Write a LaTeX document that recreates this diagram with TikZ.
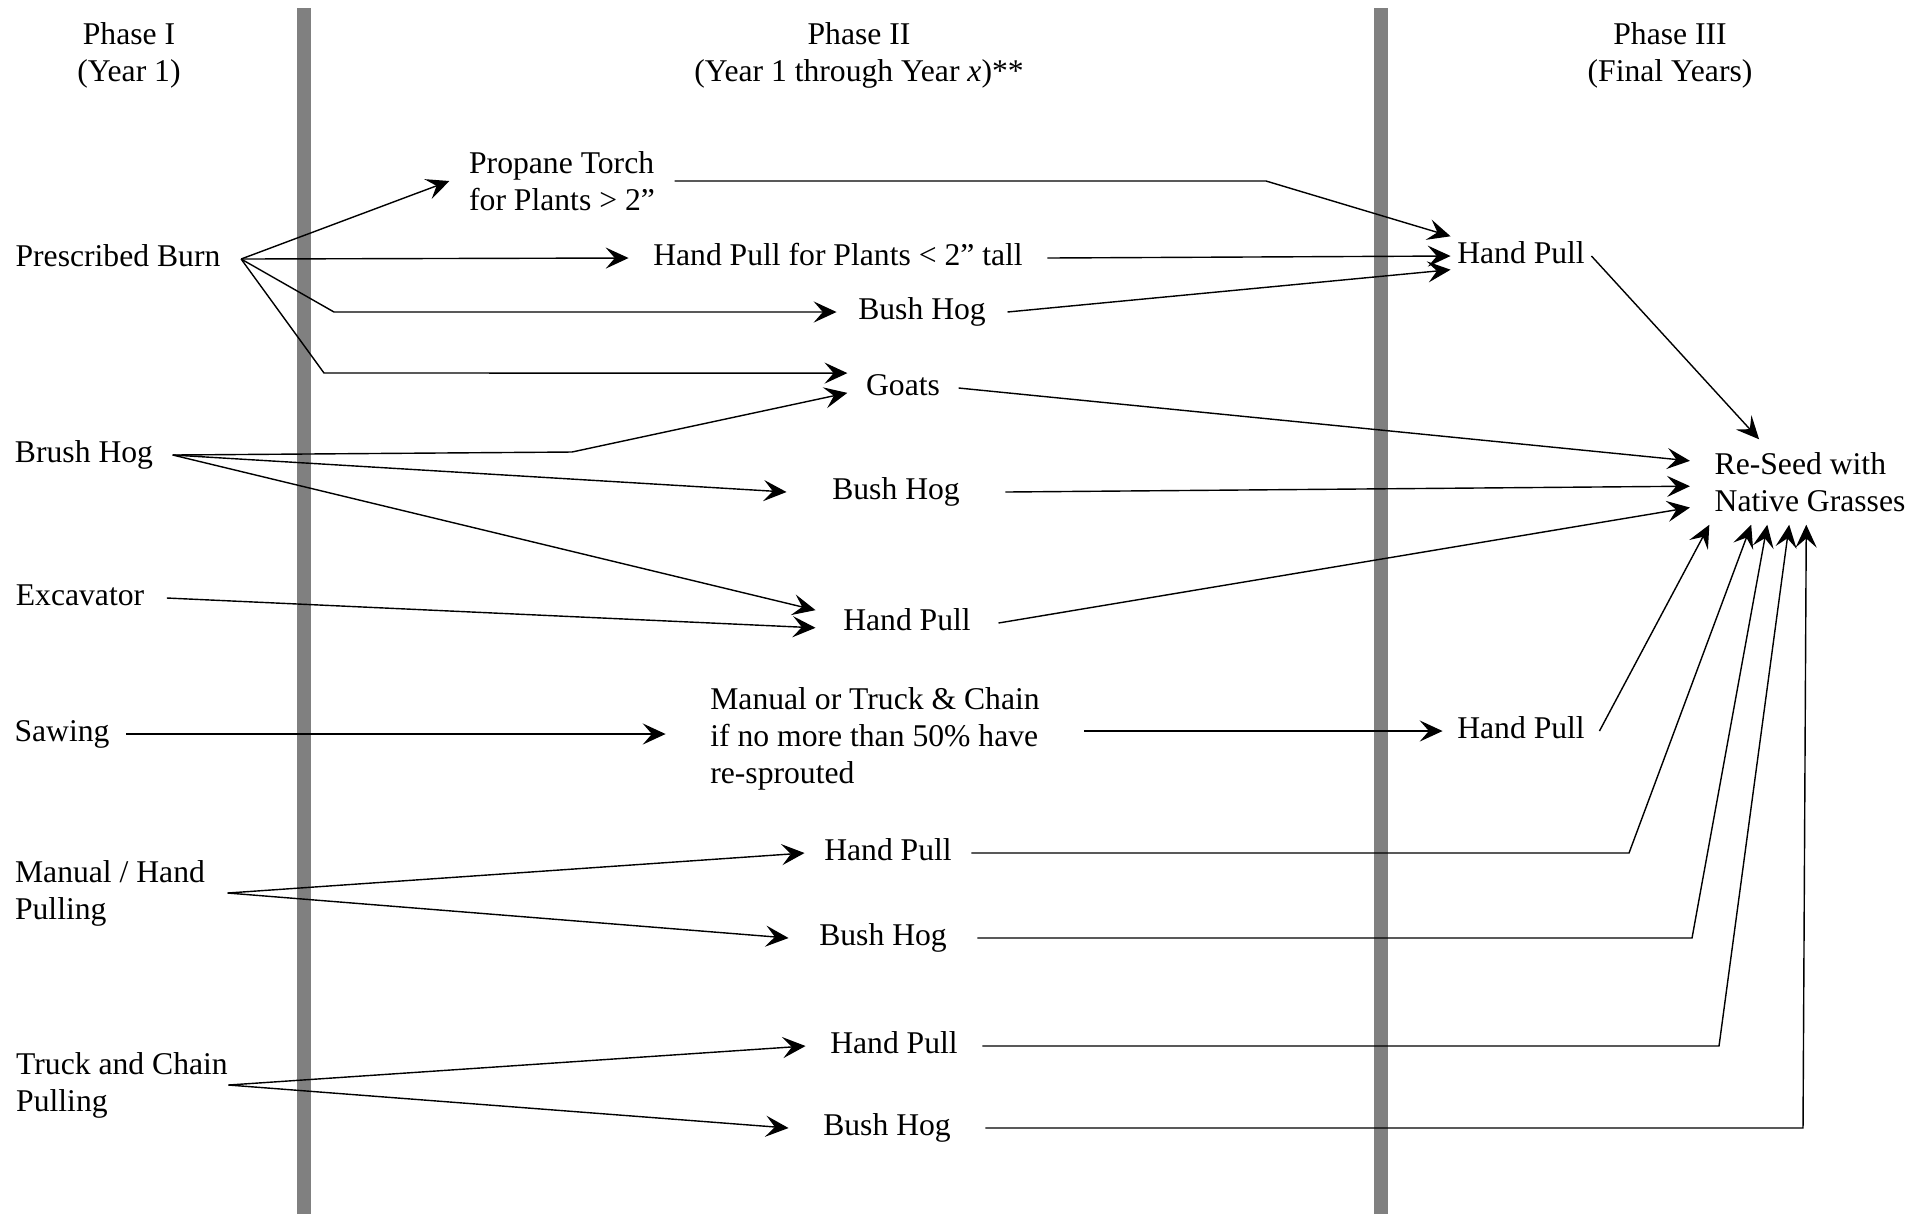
\documentclass[tikz,border=0pt]{standalone}
\usepackage{fontspec}
\setmainfont{Liberation Serif}
\usepackage{xcolor}
\usepackage{tikz}
\usetikzlibrary{arrows.meta}

\definecolor{bargray}{HTML}{808080}
\tikzset{
	lbl/.style={font=\fontsize{9}{10.5}\selectfont, inner xsep=0.2cm, inner ysep=2pt, text height=7pt, text depth=2.5pt},
	blk/.style={font=\fontsize{9}{10.5}\selectfont, align=left, inner xsep=0.2cm, inner ysep=2pt},
	arr/.style={-{Stealth[length=6.5pt,width=6pt,inset=2.6pt]}},
	divider/.style={bargray, line width=0.14cm}
}

\begin{document}
\begin{tikzpicture}[x=0.01cm, y=-0.01cm]
	\useasboundingbox (0,0) rectangle (1925,1214);
	\draw[divider] (304,8) -- (304,1214);
	\draw[divider] (1381,8) -- (1381,1214);

	% headings
	\node[blk, align=center] (head1) at (129,55) {Phase I\\(Year 1)};
	\node[blk, align=center] (head2) at (859,55) {Phase II\\(Year 1 through Year \textit{x})**};
	\node[blk, align=center] (head3) at (1670,55) {Phase III\\(Final Years)};

	% phase I
	\node[lbl] (burn) at (118,259) {Prescribed Burn};
	\node[lbl, inner xsep=0.19cm] (brush) at (84,455) {Brush Hog};
	\node[lbl, inner xsep=0.22cm] (excav) at (80,598) {Excavator};
	\node[lbl, inner xsep=0.16cm] (saw) at (62,734) {Sawing};
	\node[blk, inner xsep=0.22cm] (manual) at (110,893) {Manual / Hand\\Pulling};
	\node[blk, inner xsep=0pt] (truck) at (122,1085) {Truck and Chain\\Pulling};

	% phase II
	\node[blk, inner xsep=0.19cm] (torch) at (562,181) {Propane Torch\\for Plants > 2”};
	\node[lbl, inner xsep=0.24cm] (small) at (838,258) {Hand Pull for Plants < 2” tall};
	\foreach \name/\x/\y/\sep/\txt in {
		hog1/922/312/0.21/Bush Hog,
		goats/903/388/0.18/Goats,
		hog2/896/492/0.45/Bush Hog,
		pull2/907/623/0.27/Hand Pull,
		pull3/888/853/0.19/Hand Pull,
		hog3/883/938/0.30/Bush Hog,
		pull4/894/1046/0.24/Hand Pull,
		hog4/887/1128/0.34/Bush Hog
	}{
		\node[lbl, inner xsep=\sep cm] (\name) at (\x,\y) {\txt};
	}
	\node[blk, inner xsep=0.44cm] (chain) at (875,739) {Manual or Truck \& Chain\\if no more than 50\% have\\re-sprouted};

	% phase III
	\node[lbl, inner xsep=0.06cm, inner ysep=0pt, minimum height=0.38cm] (pull1) at (1521,256) {Hand Pull};
	\node[lbl, inner xsep=0.14cm] (pull5) at (1521,731) {Hand Pull};
	\node[blk, inner xsep=0.24cm, inner ysep=0pt, minimum height=0.84cm] (seed) at (1810,482) {Re-Seed with\\Native Grasses};

	% phase I to phase II
	\coordinate (b1) at (334,312);
	\coordinate (b2) at (324,373);
	\coordinate (b3) at (572,452);
	\draw[arr] (burn.east) -- (torch.west);
	\draw[arr] (burn.east) -- (small.west);
	\draw[arr] (burn.east) -- (b1) -- (hog1.west);
	\draw[arr] (burn.east) -- (b2) -- (goats.165);
	\draw[arr] (brush.east) -- (b3) -- (goats.185);
	\draw[arr] (brush.east) -- (hog2.west);
	\draw[arr] (brush.east) -- (pull2.172);
	\draw[arr] (excav.east) -- (pull2.183);
	\draw[arr] (saw.east) -- (saw.east -| chain.west);
	\draw[arr] (manual.east) -- (pull3.west);
	\draw[arr] (manual.east) -- (hog3.west);
	\draw[arr] (truck.east) -- (pull4.west);
	\draw[arr] (truck.east) -- (hog4.west);

	% phase II to phase III
	\coordinate (b4) at (1266,181);
	\draw[arr] (torch.east) -- (b4) -- (pull1.north west);
	\draw[arr] (small.east) -- (pull1.west);
	\draw[arr] (hog1.east) -- (pull1.191);
	\draw[arr] (chain.east |- pull5.west) -- (pull5.west);
	\draw[arr] (pull1.east) -- (seed.140);
	\draw[arr] (goats.east) -- (seed.170);
	\draw[arr] (hog2.east) -- (seed.182);
	\draw[arr] (pull2.east) -- (seed.192);
	\draw[arr] (pull5.east) -- (seed.203);
	\foreach \name/\x/\y/\ang in {pull3/1629/853/216, hog3/1692/938/225, pull4/1719/1046/244, hog4/1803/1128/265}{
		\draw[arr] (\name.east) -- (\x,\y) -- (seed.\ang);
	}
\end{tikzpicture}
\end{document}
